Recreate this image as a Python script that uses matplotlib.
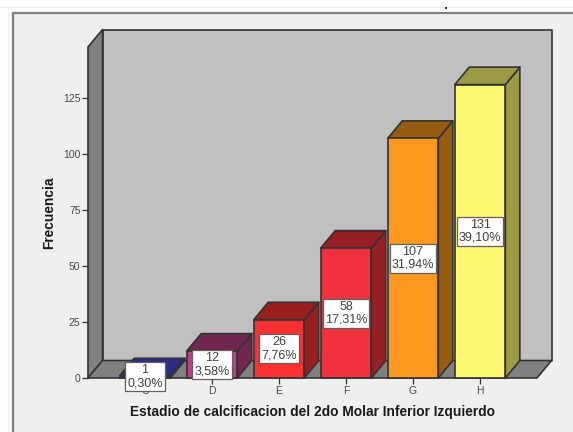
#!/usr/bin/env python3

# Recreates the 3D look bar chart of calcification stages.

import matplotlib
matplotlib.use("Agg")
import matplotlib.pyplot as plt
from matplotlib.patches import Polygon, Rectangle
from matplotlib.lines import Line2D

categories = ["C", "D", "E", "F", "G", "H"]
counts = [1, 12, 26, 58, 107, 131]
percents = ["0,30%", "3,58%", "7,76%", "17,31%", "31,94%", "39,10%"]
y_ticks = [0, 25, 50, 75, 100, 125]

front_colors = ["#3b3ca6", "#c43c88", "#fb3030", "#f1323c", "#fb981d", "#fbf76f"]
shade_colors = ["#2c2d86", "#71264f", "#991f1f", "#971f26", "#985c10", "#9d9a45"]

W, H = 573, 432
EDGE = "#333333"

plt.rcParams["font.family"] = ["Liberation Sans", "DejaVu Sans"]

fig = plt.figure(figsize=(W / 100, H / 100), dpi=100, facecolor="white")

# grey panel behind the chart, runs off the right and bottom of the image
fig.add_artist(Rectangle((13 / W, -0.01), 1.0, 1 - 13 / H + 0.01,
                         transform=fig.transFigure, facecolor="#efefef",
                         edgecolor="#808080", linewidth=1.6, zorder=-1))
fig.add_artist(Line2D([0, 1], [1 - 7 / H, 1 - 7 / H], color="#ececec", linewidth=1, zorder=-1))
fig.add_artist(Line2D([8 / W, 8 / W], [0, 1 - 7 / H], color="#f2f2f2", linewidth=1, zorder=-1))
fig.add_artist(Rectangle((445 / W, 1 - 9 / H), 2 / W, 2 / H,
                         transform=fig.transFigure, facecolor="#333333", edgecolor="none"))

ax = fig.add_axes([88 / W, 1 - 378 / H, (537 - 88) / W, (378 - 47) / H])
ax.patch.set_visible(False)

xmin, xmax = -0.85, 5.85
ymax = 147.8
ax.set_xlim(xmin, xmax)
ax.set_ylim(0, ymax)

# depth of the fake 3D in data units
dx = 14.5 / 67
dy = 17.5 / 2.24
bar_w = 0.755


def poly(pts, color, z):
    ax.add_patch(Polygon(pts, closed=True, facecolor=color, edgecolor=EDGE,
                         linewidth=1.2, joinstyle="round", clip_on=False, zorder=z))


# walls and floor
poly([(xmin + dx, dy), (xmax + dx, dy), (xmax + dx, ymax + dy), (xmin + dx, ymax + dy)], "#c0c0c0", 1)
poly([(xmin, 0), (xmin + dx, dy), (xmin + dx, ymax + dy), (xmin, ymax)], "#808080", 1.1)
poly([(xmin, 0), (xmax, 0), (xmax + dx, dy), (xmin + dx, dy)], "#808080", 1.1)

for i, v in enumerate(counts):
    l, r = i - bar_w / 2, i + bar_w / 2
    poly([(r, 0), (r + dx, dy), (r + dx, v + dy), (r, v)], shade_colors[i], 2)
    poly([(l, v), (r, v), (r + dx, v + dy), (l + dx, v + dy)], shade_colors[i], 2)

ax.bar(range(len(counts)), counts, width=bar_w, color=front_colors,
       edgecolor=EDGE, linewidth=1.2, zorder=3, clip_on=False)

for i, v in enumerate(counts):
    ax.text(i, v / 2, f"{v}\n{percents[i]}", ha="center", va="center",
            fontsize=9, color="#404040", linespacing=1.1, zorder=6, clip_on=False,
            bbox=dict(boxstyle="square,pad=0.16", facecolor="white",
                      edgecolor="#606060", linewidth=0.9))

for s in ax.spines.values():
    s.set_visible(False)

ax.set_xticks(range(len(categories)))
ax.set_xticklabels(categories)
ax.set_yticks(y_ticks)
ax.tick_params(axis="both", length=4.4, width=0.9, color="#333333",
               labelsize=7.5, labelcolor="#484848", pad=1)

fig.text(312 / W, 1 - 412 / H, "Estadio de calcificacion del 2do Molar Inferior Izquierdo",
         ha="center", va="center", fontsize=9.9, fontweight="bold", color="#1a1a1a")
fig.text(49 / W, 1 - 213 / H, "Frecuencia", ha="center", va="center",
         rotation=90, fontsize=9.9, fontweight="bold", color="#1a1a1a")

fig.savefig("out.png", dpi=100)
